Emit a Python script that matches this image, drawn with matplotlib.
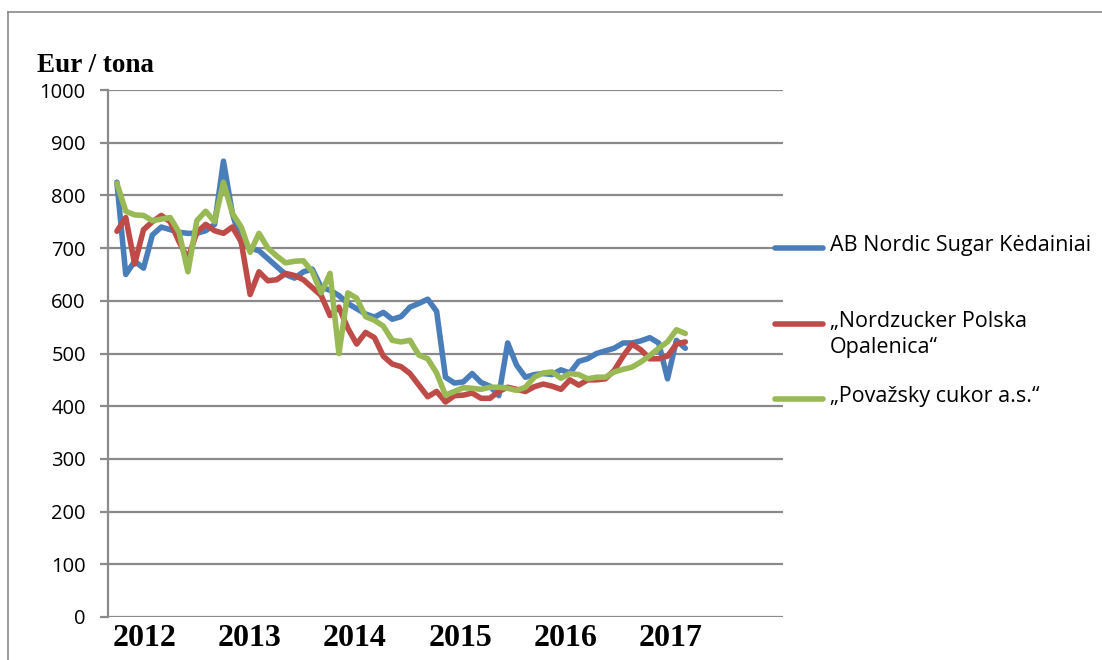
import matplotlib.pyplot as plt
from matplotlib.lines import Line2D

# monthly prices, Jan 2012 .. May 2017 (Eur / tona)
nordic_sugar = [825, 650, 675, 662, 725, 740, 735, 730, 728, 728, 733, 745, 865, 766, 710, 700,
                695, 680, 665, 650, 643, 655, 660, 626, 620, 610, 595, 585, 575, 569, 578, 565,
                570, 588, 595, 603, 580, 455, 444, 446, 462, 445, 438, 420, 520, 478, 455, 460,
                462, 460, 469, 463, 485, 490, 500, 505, 510, 520, 520, 524, 530, 520, 452, 525, 510]
nordzucker = [732, 758, 670, 735, 750, 762, 750, 712, 680, 730, 745, 733, 728, 740, 712, 612,
              655, 638, 640, 652, 648, 640, 625, 610, 572, 588, 548, 518, 540, 530, 495, 480,
              475, 462, 440, 418, 428, 408, 420, 421, 425, 415, 415, 428, 436, 432, 428, 437,
              442, 438, 432, 450, 440, 450, 450, 452, 468, 495, 518, 507, 490, 490, 495, 518, 522]
povazsky = [823, 770, 763, 762, 752, 755, 758, 730, 655, 752, 770, 750, 825, 766, 740, 692,
            728, 700, 685, 672, 675, 676, 655, 615, 652, 500, 615, 605, 570, 563, 552, 525,
            522, 525, 497, 490, 463, 421, 428, 435, 434, 432, 436, 436, 434, 430, 436, 455,
            463, 465, 453, 462, 460, 452, 455, 455, 465, 470, 474, 484, 496, 510, 522, 545, 538]

series_names = ['AB Nordic Sugar Kėdainiai', '„Nordzucker Polska\nOpalenica“', '„Považsky cukor a.s.“']
colors = ['#4A7EBB', '#BE4B48', '#98B954']
years = ['2012', '2013', '2014', '2015', '2016', '2017']
yticks = [0, 100, 200, 300, 400, 500, 600, 700, 800, 900, 1000]

fig = plt.figure(figsize=(11.02, 6.6), dpi=100)
ax = fig.add_axes([108 / 1102, 1 - 617 / 660, 675 / 1102, 527 / 660])

months = list(range(len(nordic_sugar)))
for vals, c in zip([nordic_sugar, nordzucker, povazsky], colors):
    ax.plot(months, vals, color=c, lw=4, solid_joinstyle='round', solid_capstyle='round')

ax.set_xlim(-1, 75)
ax.set_ylim(0, 1000)
ax.set_yticks(yticks)
ax.set_yticklabels([str(v) for v in yticks], fontsize=14.5, family='Open Sans')
ax.set_xticks([])
ax.grid(axis='y', color='#8A8A8A', lw=1.6)
ax.set_axisbelow(True)
ax.tick_params(axis='y', length=6, color='#8A8A8A', width=1.6, pad=10)
for s in ['top', 'right', 'bottom']:
    ax.spines[s].set_visible(False)
ax.spines['left'].set_color('#8A8A8A')
ax.spines['left'].set_linewidth(1.6)

# year labels under the axis
for k, y in enumerate(years):
    ax.text(3.1 + 11.85 * k, -0.04, y, transform=ax.get_xaxis_transform(), ha='center', va='center',
            fontsize=23, fontweight='bold', family='Liberation Serif')

fig.text(37 / 1102, 1 - 66 / 660, 'Eur / tona', fontsize=19.5, fontweight='bold',
         family='Liberation Serif', va='center', ha='left')

# legend drawn by hand
leg_y = [248, 324, 399]
for name, c, y in zip(series_names, colors, leg_y):
    fig.add_artist(Line2D([775 / 1102, 823 / 1102], [1 - y / 660] * 2, color=c, lw=4,
                          solid_capstyle='round'))
    fig.text(830 / 1102, 1 - (y - 13) / 660, name, fontsize=15.5, family='Open Sans',
             va='top', ha='left', linespacing=1.3)

# outer frame (top and left)
fig.add_artist(Line2D([8 / 1102, 1], [1 - 12 / 660] * 2, color='#8A8A8A', lw=1.2))
fig.add_artist(Line2D([8 / 1102, 8 / 1102], [0, 1 - 12 / 660], color='#8A8A8A', lw=1.2))

fig.savefig('out.png', dpi=100)
